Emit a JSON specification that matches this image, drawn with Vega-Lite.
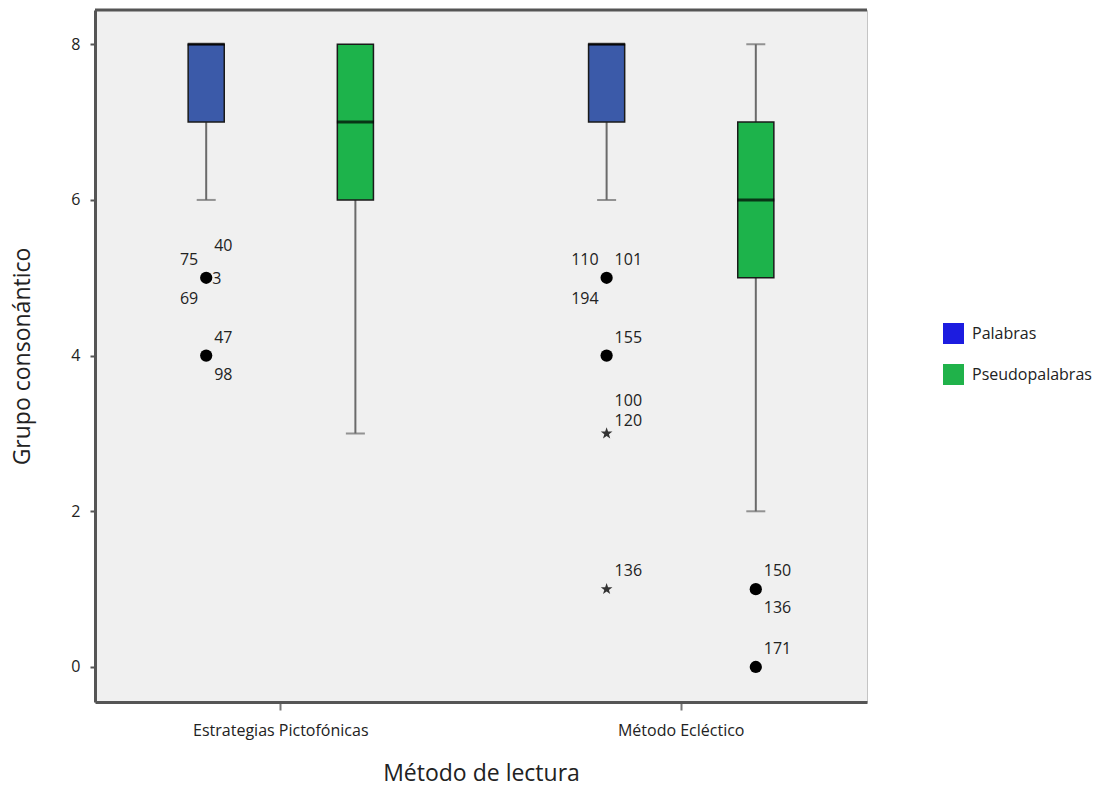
{
  "$schema": "https://vega.github.io/schema/vega-lite/v6.json",
  "width": 772,
  "height": 692,
  "autosize": {"type": "none"},
  "padding": {"left": 95, "top": 10, "right": 230, "bottom": 86},
  "background": "white",
  "config": {
    "view": {"fill": "#f0f0f0", "stroke": "#c4c4c4", "strokeWidth": 1},
    "font": "Open Sans"
  },
  "datasets": {
    "cajas": [
      {"metodo": "Estrategias Pictofónicas", "grupo": "Palabras", "min": 6, "q1": 7, "mediana": 8, "q3": 8, "max": 8},
      {"metodo": "Estrategias Pictofónicas", "grupo": "Pseudopalabras", "min": 3, "q1": 6, "mediana": 7, "q3": 8, "max": 8},
      {"metodo": "Método Ecléctico", "grupo": "Palabras", "min": 6, "q1": 7, "mediana": 8, "q3": 8, "max": 8},
      {"metodo": "Método Ecléctico", "grupo": "Pseudopalabras", "min": 2, "q1": 5, "mediana": 6, "q3": 7, "max": 8}
    ],
    "atipicos": [
      {"metodo": "Estrategias Pictofónicas", "grupo": "Palabras", "valor": 5, "tipo": "circulo"},
      {"metodo": "Estrategias Pictofónicas", "grupo": "Palabras", "valor": 4, "tipo": "circulo"},
      {"metodo": "Método Ecléctico", "grupo": "Palabras", "valor": 5, "tipo": "circulo"},
      {"metodo": "Método Ecléctico", "grupo": "Palabras", "valor": 4, "tipo": "circulo"},
      {"metodo": "Método Ecléctico", "grupo": "Palabras", "valor": 3, "tipo": "estrella"},
      {"metodo": "Método Ecléctico", "grupo": "Palabras", "valor": 1, "tipo": "estrella"},
      {"metodo": "Método Ecléctico", "grupo": "Pseudopalabras", "valor": 1, "tipo": "circulo"},
      {"metodo": "Método Ecléctico", "grupo": "Pseudopalabras", "valor": 0, "tipo": "circulo"}
    ],
    "etiquetas": [
      {"metodo": "Estrategias Pictofónicas", "grupo": "Palabras", "valor": 5, "caso": "40", "pos": "ne2"},
      {"metodo": "Estrategias Pictofónicas", "grupo": "Palabras", "valor": 5, "caso": "75", "pos": "nw"},
      {"metodo": "Estrategias Pictofónicas", "grupo": "Palabras", "valor": 5, "caso": "3", "pos": "e"},
      {"metodo": "Estrategias Pictofónicas", "grupo": "Palabras", "valor": 5, "caso": "69", "pos": "sw"},
      {"metodo": "Estrategias Pictofónicas", "grupo": "Palabras", "valor": 4, "caso": "47", "pos": "ne"},
      {"metodo": "Estrategias Pictofónicas", "grupo": "Palabras", "valor": 4, "caso": "98", "pos": "se"},
      {"metodo": "Método Ecléctico", "grupo": "Palabras", "valor": 5, "caso": "110", "pos": "nw"},
      {"metodo": "Método Ecléctico", "grupo": "Palabras", "valor": 5, "caso": "101", "pos": "ne"},
      {"metodo": "Método Ecléctico", "grupo": "Palabras", "valor": 5, "caso": "194", "pos": "sw"},
      {"metodo": "Método Ecléctico", "grupo": "Palabras", "valor": 4, "caso": "155", "pos": "ne"},
      {"metodo": "Método Ecléctico", "grupo": "Palabras", "valor": 3, "caso": "100", "pos": "ne2"},
      {"metodo": "Método Ecléctico", "grupo": "Palabras", "valor": 3, "caso": "120", "pos": "ne1"},
      {"metodo": "Método Ecléctico", "grupo": "Palabras", "valor": 1, "caso": "136", "pos": "ne"},
      {"metodo": "Método Ecléctico", "grupo": "Pseudopalabras", "valor": 1, "caso": "150", "pos": "ne"},
      {"metodo": "Método Ecléctico", "grupo": "Pseudopalabras", "valor": 1, "caso": "136", "pos": "se"},
      {"metodo": "Método Ecléctico", "grupo": "Pseudopalabras", "valor": 0, "caso": "171", "pos": "ne"}
    ]
  },
  "layer": [
    {
      "data": {"name": "cajas"},
      "mark": {"type": "rule", "color": "#6a6a6a", "strokeWidth": 2},
      "encoding": {
        "x": {"field": "metodo", "type": "nominal", "scale": {"domain": ["Estrategias Pictofónicas", "Método Ecléctico"], "paddingInner": 0.5, "paddingOuter": 0.214},
          "title": "Método de lectura",
          "axis": {"labelAngle": 0, "domainColor": "#555555", "domainWidth": 3, "tickColor": "#777777", "tickSize": 8, "tickWidth": 2, "labelFontSize": 16, "labelColor": "#222222", "labelPadding": 12, "titleFontSize": 23, "titleFontWeight": "normal", "titleColor": "#222222", "titlePadding": 24, "labelFont": "Open Sans", "titleFont": "Open Sans"}},
        "xOffset": {"field": "grupo", "type": "nominal", "scale": {"domain": ["Palabras", "Pseudopalabras"], "paddingInner": 0.758, "paddingOuter": 0.05}},
        "y": {"field": "min", "type": "quantitative", "scale": {"domain": [-0.45, 8.44], "nice": false, "zero": false},
          "title": "Grupo consonántico",
          "axis": {"values": [0, 2, 4, 6, 8], "format": "d", "grid": false, "domainColor": "#555555", "domainWidth": 3, "tickColor": "#555555", "tickSize": 5, "tickWidth": 2, "labelFontSize": 16, "labelColor": "#222222", "labelPadding": 10, "titleFontSize": 23, "titleFontWeight": "normal", "titleColor": "#222222", "titlePadding": 36, "labelFont": "Open Sans", "titleFont": "Open Sans"}},
        "y2": {"field": "q1"}
      }
    },
    {
      "data": {"name": "cajas"},
      "mark": {"type": "rule", "color": "#6a6a6a", "strokeWidth": 2},
      "encoding": {
        "x": {"field": "metodo", "type": "nominal"},
        "xOffset": {"field": "grupo", "type": "nominal"},
        "y": {"field": "q3", "type": "quantitative"},
        "y2": {"field": "max"}
      }
    },
    {
      "data": {"name": "cajas"},
      "mark": {"type": "tick", "color": "#6a6a6a", "size": 19, "thickness": 2},
      "encoding": {
        "x": {"field": "metodo", "type": "nominal"},
        "xOffset": {"field": "grupo", "type": "nominal"},
        "y": {"field": "min", "type": "quantitative"}
      }
    },
    {
      "data": {"name": "cajas"},
      "transform": [{"filter": "datum.max > datum.q3"}],
      "mark": {"type": "tick", "color": "#6a6a6a", "size": 19, "thickness": 2},
      "encoding": {
        "x": {"field": "metodo", "type": "nominal"},
        "xOffset": {"field": "grupo", "type": "nominal"},
        "y": {"field": "max", "type": "quantitative"}
      }
    },
    {
      "data": {"name": "cajas"},
      "mark": {"type": "bar", "stroke": "#1a1a1a", "strokeWidth": 1.5, "opacity": 1},
      "encoding": {
        "x": {"field": "metodo", "type": "nominal"},
        "xOffset": {"field": "grupo", "type": "nominal"},
        "y": {"field": "q1", "type": "quantitative"},
        "y2": {"field": "q3"},
        "color": {"field": "grupo", "type": "nominal", "scale": {"domain": ["Palabras", "Pseudopalabras"], "range": ["#3b5aa9", "#1db34b"]}, "legend": null}
      }
    },
    {
      "data": {"name": "cajas"},
      "mark": {"type": "tick", "color": "#000000", "size": 37, "thickness": 3},
      "encoding": {
        "x": {"field": "metodo", "type": "nominal"},
        "xOffset": {"field": "grupo", "type": "nominal"},
        "y": {"field": "mediana", "type": "quantitative"}
      }
    },
    {
      "data": {"name": "atipicos"},
      "transform": [{"filter": "datum.tipo == 'circulo'"}],
      "mark": {"type": "point", "shape": "circle", "filled": true, "size": 150, "color": "#000000", "opacity": 1},
      "encoding": {
        "x": {"field": "metodo", "type": "nominal"},
        "xOffset": {"field": "grupo", "type": "nominal"},
        "y": {"field": "valor", "type": "quantitative"}
      }
    },
    {
      "data": {"name": "atipicos"},
      "transform": [{"filter": "datum.tipo == 'estrella'"}],
      "mark": {"type": "point", "shape": "M0,-1L0.235,-0.324L0.951,-0.309L0.38,0.124L0.588,0.809L0,0.4L-0.588,0.809L-0.38,0.124L-0.951,-0.309L-0.235,-0.324Z", "filled": true, "size": 150, "color": "#333333", "opacity": 1},
      "encoding": {
        "x": {"field": "metodo", "type": "nominal"},
        "xOffset": {"field": "grupo", "type": "nominal"},
        "y": {"field": "valor", "type": "quantitative"}
      }
    },
    {
      "data": {"name": "etiquetas"},
      "transform": [{"filter": "datum.pos == 'ne'"}],
      "mark": {"type": "text", "align": "left", "baseline": "middle", "dx": 8, "dy": -18, "fontSize": 16, "font": "Open Sans", "color": "#222222"},
      "encoding": {"x": {"field": "metodo", "type": "nominal"}, "xOffset": {"field": "grupo", "type": "nominal"}, "y": {"field": "valor", "type": "quantitative"}, "text": {"field": "caso"}}
    },
    {
      "data": {"name": "etiquetas"},
      "transform": [{"filter": "datum.pos == 'ne2'"}],
      "mark": {"type": "text", "align": "left", "baseline": "middle", "dx": 8, "dy": -32, "fontSize": 16, "font": "Open Sans", "color": "#222222"},
      "encoding": {"x": {"field": "metodo", "type": "nominal"}, "xOffset": {"field": "grupo", "type": "nominal"}, "y": {"field": "valor", "type": "quantitative"}, "text": {"field": "caso"}}
    },
    {
      "data": {"name": "etiquetas"},
      "transform": [{"filter": "datum.pos == 'ne1'"}],
      "mark": {"type": "text", "align": "left", "baseline": "middle", "dx": 8, "dy": -12, "fontSize": 16, "font": "Open Sans", "color": "#222222"},
      "encoding": {"x": {"field": "metodo", "type": "nominal"}, "xOffset": {"field": "grupo", "type": "nominal"}, "y": {"field": "valor", "type": "quantitative"}, "text": {"field": "caso"}}
    },
    {
      "data": {"name": "etiquetas"},
      "transform": [{"filter": "datum.pos == 'e'"}],
      "mark": {"type": "text", "align": "left", "baseline": "middle", "dx": 6, "dy": 1, "fontSize": 16, "font": "Open Sans", "color": "#222222"},
      "encoding": {"x": {"field": "metodo", "type": "nominal"}, "xOffset": {"field": "grupo", "type": "nominal"}, "y": {"field": "valor", "type": "quantitative"}, "text": {"field": "caso"}}
    },
    {
      "data": {"name": "etiquetas"},
      "transform": [{"filter": "datum.pos == 'se'"}],
      "mark": {"type": "text", "align": "left", "baseline": "middle", "dx": 8, "dy": 19, "fontSize": 16, "font": "Open Sans", "color": "#222222"},
      "encoding": {"x": {"field": "metodo", "type": "nominal"}, "xOffset": {"field": "grupo", "type": "nominal"}, "y": {"field": "valor", "type": "quantitative"}, "text": {"field": "caso"}}
    },
    {
      "data": {"name": "etiquetas"},
      "transform": [{"filter": "datum.pos == 'nw'"}],
      "mark": {"type": "text", "align": "right", "baseline": "middle", "dx": -8, "dy": -18, "fontSize": 16, "font": "Open Sans", "color": "#222222"},
      "encoding": {"x": {"field": "metodo", "type": "nominal"}, "xOffset": {"field": "grupo", "type": "nominal"}, "y": {"field": "valor", "type": "quantitative"}, "text": {"field": "caso"}}
    },
    {
      "data": {"name": "etiquetas"},
      "transform": [{"filter": "datum.pos == 'sw'"}],
      "mark": {"type": "text", "align": "right", "baseline": "middle", "dx": -8, "dy": 21, "fontSize": 16, "font": "Open Sans", "color": "#222222"},
      "encoding": {"x": {"field": "metodo", "type": "nominal"}, "xOffset": {"field": "grupo", "type": "nominal"}, "y": {"field": "valor", "type": "quantitative"}, "text": {"field": "caso"}}
    },
    {
      "data": {"name": "cajas"},
      "mark": {"type": "square", "opacity": 0, "filled": true},
      "encoding": {
        "x": {"field": "metodo", "type": "nominal"},
        "xOffset": {"field": "grupo", "type": "nominal"},
        "y": {"field": "mediana", "type": "quantitative"},
        "color": {"field": "grupo", "type": "nominal", "scale": {"domain": ["Palabras", "Pseudopalabras"], "range": ["#1c1ce0", "#20b24a"]},
          "legend": {"title": null, "orient": "none", "legendX": 848, "legendY": 313, "symbolType": "square", "symbolSize": 441, "symbolOpacity": 1, "symbolStrokeWidth": 0, "labelFontSize": 16, "labelFont": "Open Sans", "labelColor": "#222222", "rowPadding": 20, "labelOffset": 8, "padding": 0}}
      }
    },
    {
      "data": {"values": [{}]},
      "mark": {"type": "rule", "color": "#555555", "strokeWidth": 3},
      "encoding": {"y": {"datum": 8.44, "type": "quantitative"}}
    }
  ],
  "resolve": {"scale": {"color": "independent"}}
}
